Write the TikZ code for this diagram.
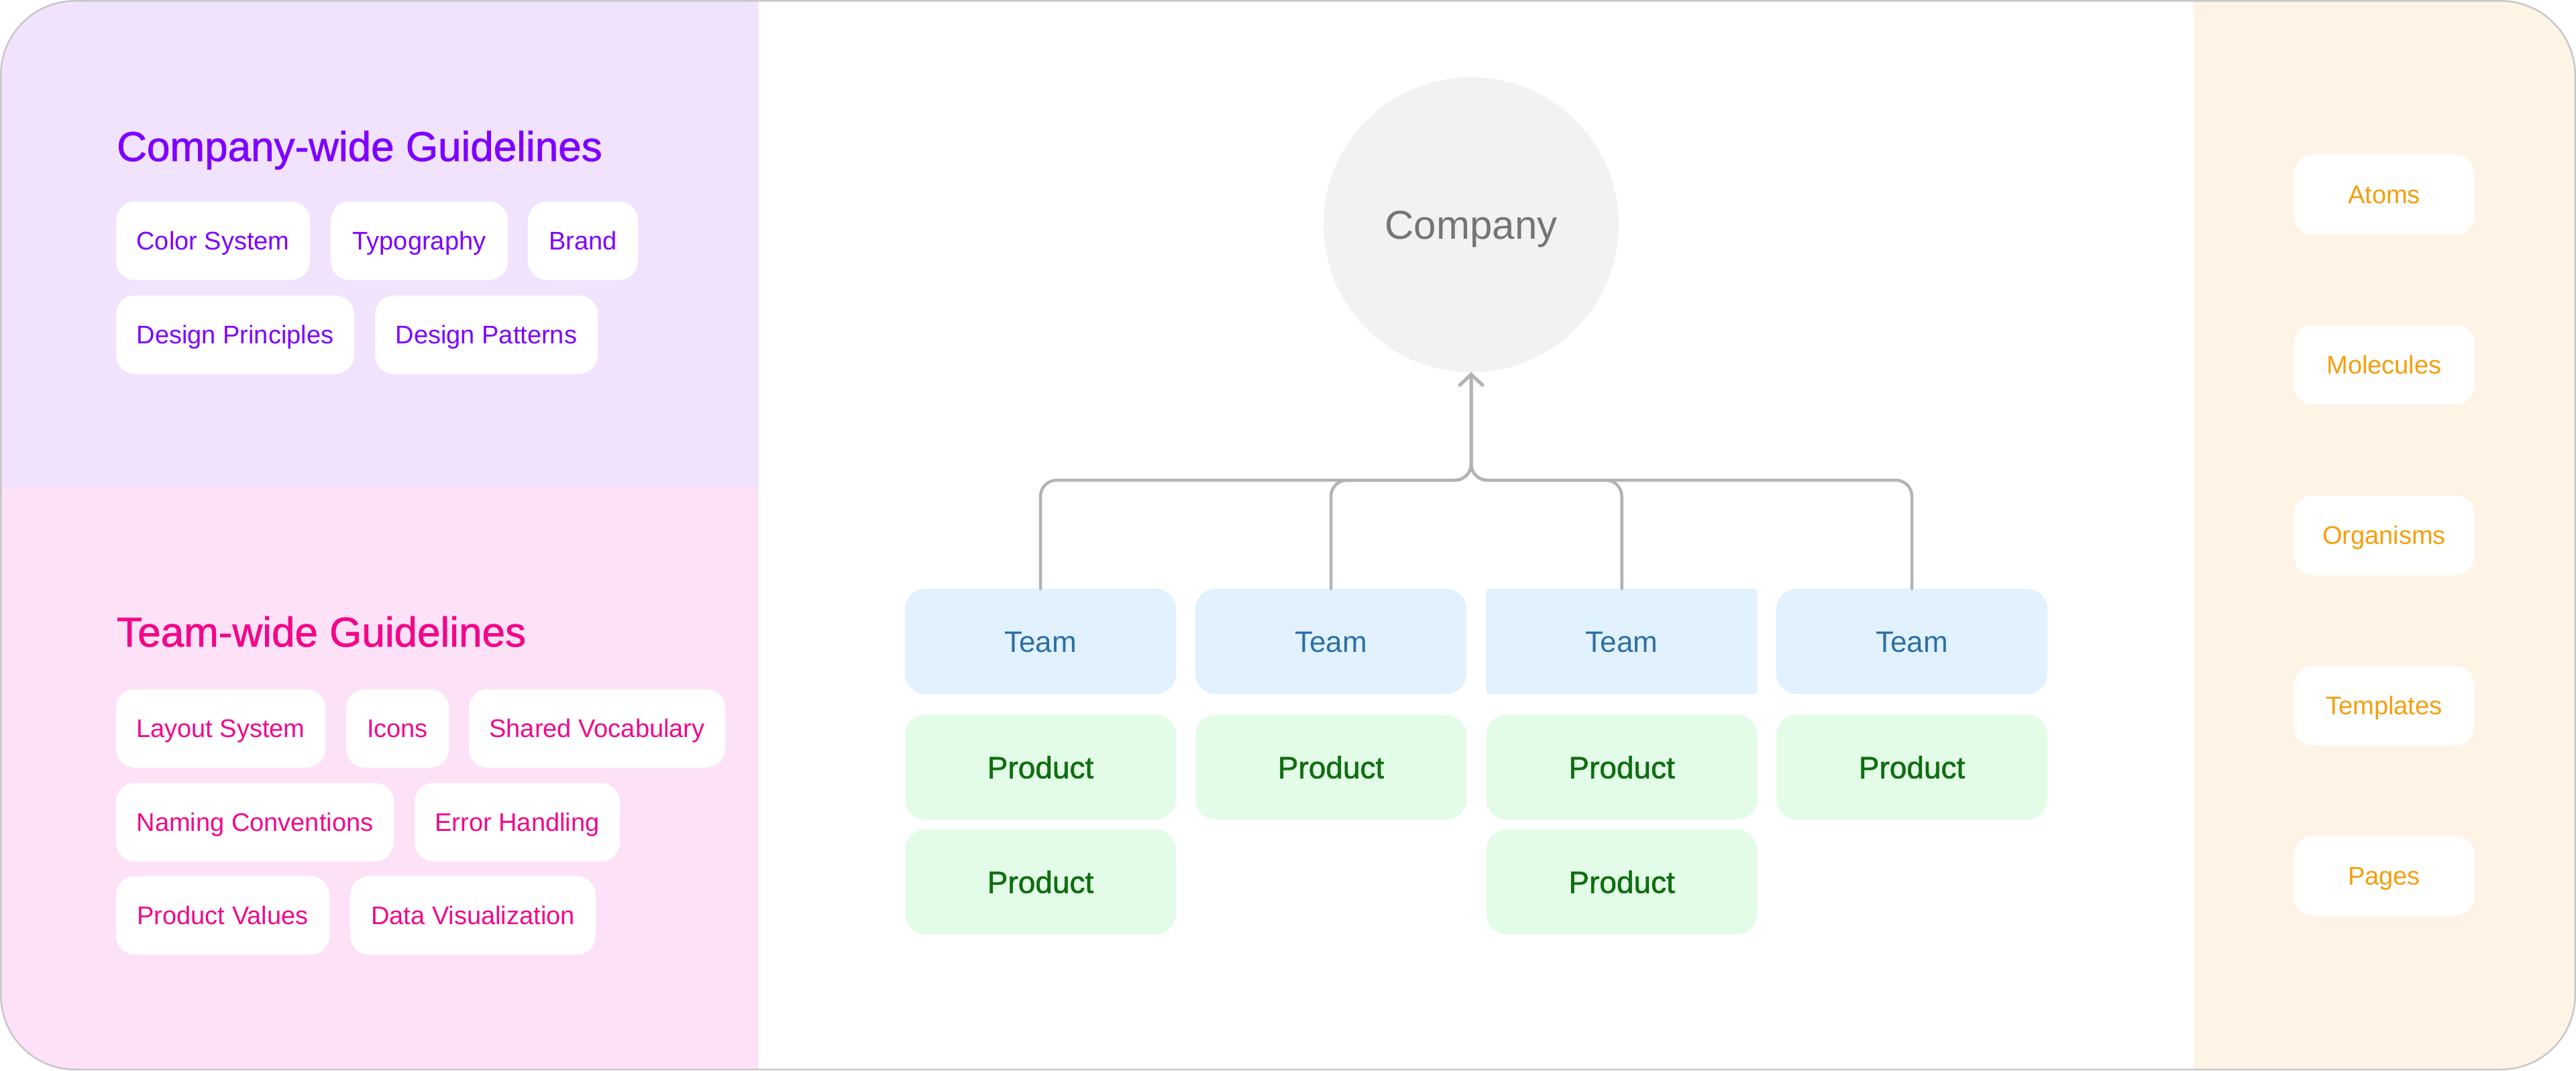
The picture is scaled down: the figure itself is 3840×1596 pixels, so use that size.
\documentclass[tikz,border=0pt]{standalone}
\usepackage{fontspec}
\setmainfont{Liberation Sans}
\newfontfamily\medfont[FakeBold=1.2]{Liberation Sans}
\usetikzlibrary{arrows.meta,calc}
\definecolor{lavbg}{HTML}{F1E3FD}
\definecolor{pinkbg}{HTML}{FDE2F7}
\definecolor{orgbg}{HTML}{FDF4E6}
\definecolor{purp}{HTML}{7F00FF}
\definecolor{pinktx}{HTML}{F2078A}
\definecolor{orgtx}{HTML}{F59E0B}
\definecolor{teamfill}{HTML}{E1F1FE}
\definecolor{teamtx}{HTML}{2C6FA6}
\definecolor{prodfill}{HTML}{E3FCE8}
\definecolor{prodtx}{HTML}{0E6E0E}
\definecolor{circfill}{HTML}{F2F2F2}
\definecolor{circtx}{HTML}{757575}
\definecolor{conncol}{HTML}{B3B3B3}
\definecolor{framecol}{HTML}{C8C8C8}
\begin{document}
\begin{tikzpicture}[x=1pt,y=-1pt,
  chipbase/.style={fill=white, rounded corners=28pt, minimum height=117pt, inner sep=0pt,
    text height=27.5pt, text depth=0pt, font=\fontsize{38}{46}\selectfont},
  pchip/.style={chipbase, text=purp},
  kchip/.style={chipbase, text=pinktx},
  ochip/.style={chipbase, text=orgtx, minimum width=268pt, minimum height=119pt},
  title/.style={anchor=base west, inner sep=0pt, font=\medfont\fontsize{62}{74}\selectfont},
  teambox/.style={fill=teamfill, text=teamtx, rounded corners=30pt, minimum width=404pt,
    minimum height=157pt, inner sep=0pt, text height=31.5pt, text depth=0pt, font=\fontsize{44}{52}\selectfont},
  prodbox/.style={fill=prodfill, text=prodtx, rounded corners=30pt, minimum width=404pt,
    minimum height=156pt, inner sep=0pt, text height=33pt, text depth=0pt, font=\medfont\fontsize{46}{54}\selectfont},
  conn/.style={draw=conncol, line width=4.5pt, rounded corners=24pt, line cap=round,
    -{Straight Barb[length=16pt,width=34pt,line cap=round]}}
]
\useasboundingbox (0,0) rectangle (3840,1596);
% panels
\begin{scope}
  \clip[rounded corners=112pt] (0,0) rectangle (3840,1596);
  \fill[lavbg] (0,0) rectangle (1131,727);
  \fill[pinkbg] (0,727) rectangle (1131,1596);
  \fill[orgbg] (3270,0) rectangle (3840,1596);
\end{scope}
\draw[framecol, line width=2.5pt, rounded corners=111pt] (1.25,1.25) rectangle (3838.75,1594.75);

% left: company-wide
\node[title, text=purp] (ct) at (174,240) {Company-wide Guidelines};
\node[pchip, minimum width=289pt] (cs) at (317.5,359) {Color System};
\node[pchip, minimum width=264pt] (ty) at (625,359) {Typography};
\node[pchip, minimum width=164pt] (br) at (869,359) {Brand};
\node[pchip, minimum width=355pt] (dpr) at (350.5,499) {Design Principles};
\node[pchip, minimum width=332pt] (dpa) at (725,499) {Design Patterns};

% left: team-wide
\node[title, text=pinktx] (tt) at (174,964) {Team-wide Guidelines};
\node[kchip, minimum width=312pt] (ls) at (329,1086) {Layout System};
\node[kchip, minimum width=153pt] (ic) at (592.5,1086) {Icons};
\node[kchip, minimum width=382pt] (sv) at (890,1086) {Shared Vocabulary};
\node[kchip, minimum width=414pt] (nc) at (380,1226) {Naming Conventions};
\node[kchip, minimum width=306pt] (eh) at (771,1226) {Error Handling};
\node[kchip, minimum width=318pt] (pv) at (332,1365) {Product Values};
\node[kchip, minimum width=366pt] (dv) at (705,1365) {Data Visualization};

% center
\node[circle, fill=circfill, text=circtx, minimum size=440pt, inner sep=0pt,
  text height=43pt, text depth=0pt, font=\fontsize{60}{70}\selectfont] (co) at (2193,335) {Company};
\node[teambox] (t1) at (1551,956.5) {Team};
\node[teambox] (t2) at (1984,956.5) {Team};
\node[teambox, rounded corners=4pt] (t3) at (2417.5,956.5) {Team};
\node[teambox] (t4) at (2850,956.5) {Team};
\node[prodbox] (p1a) at (1551,1144) {Product};
\node[prodbox] (p1b) at (1551,1315) {Product};
\node[prodbox] (p2a) at (1984,1144) {Product};
\node[prodbox] (p3a) at (2417.5,1144) {Product};
\node[prodbox] (p3b) at (2417.5,1315) {Product};
\node[prodbox] (p4a) at (2850,1144) {Product};

\coordinate (j) at (2193,716);
\foreach \t in {t1,t2,t3,t4}
  \draw[conn] (\t.north) |- (j) -- (co.south);

% right
\node[ochip] (at) at (3554,290) {Atoms};
\node[ochip] (mo) at (3554,544) {Molecules};
\node[ochip] (or) at (3554,798) {Organisms};
\node[ochip] (te) at (3554,1052) {Templates};
\node[ochip] (pa) at (3554,1306) {Pages};
\end{tikzpicture}
\end{document}
